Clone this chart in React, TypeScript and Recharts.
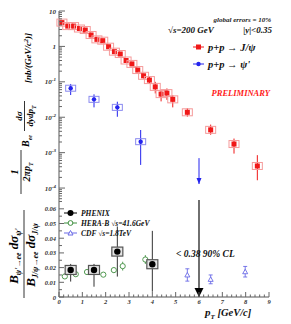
import React from 'react';
import { ComposedChart, Scatter, XAxis, YAxis, ErrorBar } from 'recharts';

// J/psi cross section (top panel)
const jpsiPt = [0.125, 0.375, 0.625, 0.875, 1.125, 1.375, 1.625, 1.875, 2.125, 2.375, 2.625, 2.875, 3.125, 3.375, 3.625, 3.875, 4.125, 4.375, 4.625, 4.875, 5.5, 6.5, 7.5, 8.5];
const jpsiVal = [4.7, 3.75, 3.75, 3.2, 2.9, 2.1, 1.58, 1.45, 0.98, 0.71, 0.61, 0.4, 0.32, 0.215, 0.148, 0.112, 0.072, 0.045, 0.048, 0.032, 0.0138, 0.0044, 0.00175, 0.00042];
const jpsiLo = [4.4, 3.5, 3.5, 3.0, 2.7, 1.95, 1.47, 1.33, 0.9, 0.65, 0.55, 0.36, 0.28, 0.19, 0.125, 0.088, 0.047, 0.028, 0.031, 0.019, 0.0104, 0.0032, 0.00094, 0.000166];
const jpsiHi = [5.0, 4.0, 4.0, 3.4, 3.1, 2.25, 1.7, 1.57, 1.06, 0.77, 0.67, 0.44, 0.36, 0.24, 0.17, 0.14, 0.1, 0.061, 0.065, 0.042, 0.018, 0.0062, 0.0025, 0.00085];

// psi' cross section (top panel)
const psiPt = [0.5, 1.5, 2.5, 3.5];
const psiVal = [0.066, 0.032, 0.019, 0.00204];
const psiLo = [0.0424, 0.019, 0.0103, 0.00045];
const psiHi = [0.087, 0.0443, 0.0274, 0.00436];
const psiLimitPt = [6];
const psiLimitTip = [0.00013];
const psiLimitTop = [0.0007];

// ratio (bottom panel)
const phenixPt = [0.5, 1.5, 2.5, 4.0];
const phenixVal = [0.0184, 0.0184, 0.0309, 0.0223];
const phenixLo = [0.0105, 0.007, 0.0139, 0.0036];
const phenixHi = [0.0225, 0.0225, 0.048, 0.045];
const herabPt = [0.25, 0.72, 1.2, 1.9, 2.35, 2.73, 3.7];
const herabVal = [0.014, 0.0155, 0.017, 0.0152, 0.0183, 0.021, 0.0255];
const herabErr = [0.0015, 0.0015, 0.0015, 0.0015, 0.002, 0.003, 0.003];
const cdfPt = [5.5, 6.5, 7.98];
const cdfVal = [0.015, 0.012, 0.0172];
const cdfErr = [0.0042, 0.003, 0.0036];
const ratioLimitPt = [6];
const ratioLimitTip = [0];
const ratioLimitTop = [0.066];

// axes
const xMajor = [0, 1, 2, 3, 4, 5, 6, 7, 8, 9];
const xLabels = ['0', '1', '2', '3', '4', '5', '6', '7', '8', '9'];
const logMajor = [0.0001, 0.001, 0.01, 0.1, 1, 10];
const logBase = ['10', '10', '10', '10', '1', '10'];
const logExp = ['-4', '-3', '-2', '-1', '', ''];
const ratioMajor = [0, 0.01, 0.02, 0.03, 0.04, 0.05, 0.06];
const ratioLabels = ['0', '0.01', '0.02', '0.03', '0.04', '0.05', '0.06'];

const xTicks = [...xMajor, ...xMajor.slice(0, 9).flatMap((m) => [0.2, 0.4, 0.6, 0.8].map((f) => m + f))];
const logTicks = [...logMajor, ...[0.00001, 0.0001, 0.001, 0.01, 0.1, 1].flatMap((d) => [2, 3, 4, 5, 6, 7, 8, 9].map((k) => d * k)).filter((v) => v > 4.6e-5 && v < 10)];
const ratioTicks = [...ratioMajor, 0.005, 0.015, 0.025, 0.035, 0.045, 0.055, 0.065];

const jpsiData = jpsiPt.map((x, i) => ({ x, y: jpsiVal[i], err: [jpsiVal[i] - jpsiLo[i], jpsiHi[i] - jpsiVal[i]] }));
const psiData = psiPt.map((x, i) => ({ x, y: psiVal[i], err: [psiVal[i] - psiLo[i], psiHi[i] - psiVal[i]] }));
const psiLimit = psiLimitPt.map((x, i) => ({ x, y: psiLimitTip[i], err: [0, psiLimitTop[i] - psiLimitTip[i]] }));
const phenixData = phenixPt.map((x, i) => ({ x, y: phenixVal[i], err: [phenixVal[i] - phenixLo[i], phenixHi[i] - phenixVal[i]] }));
const herabData = herabPt.map((x, i) => ({ x, y: herabVal[i], err: herabErr[i] }));
const cdfData = cdfPt.map((x, i) => ({ x, y: cdfVal[i], err: cdfErr[i] }));
const ratioLimit = ratioLimitPt.map((x, i) => ({ x, y: ratioLimitTip[i], err: [0, ratioLimitTop[i] - ratioLimitTip[i]] }));

const FONT = '"Liberation Serif", "DejaVu Serif", serif';
const RED = '#f01818';
const BLUE = '#2424ee';
const GREEN = '#3f8f3f';
const CDFBLUE = '#6a6ae6';
const txt = { fontFamily: FONT, fontStyle: 'italic', fontWeight: 'bold' } as const;

const LogTick = (p: any) => {
  const i = logMajor.indexOf(p.payload.value);
  const major = i >= 0;
  return (
    <g>
      <line x1={p.x} x2={p.x + (major ? 6 : 3)} y1={p.y} y2={p.y} stroke="#666" />
      {major && (
        <text x={p.x - 3} y={p.y + 2.5} textAnchor="end" fontSize={7} {...txt} fill="#333">
          {logBase[i]}
          {logExp[i] && <tspan dy={-3} fontSize={5}>{logExp[i]}</tspan>}
        </text>
      )}
    </g>
  );
};

const RatioTick = (p: any) => {
  const i = ratioMajor.indexOf(p.payload.value);
  const major = i >= 0;
  return (
    <g>
      <line x1={p.x} x2={p.x + (major ? 5 : 3)} y1={p.y} y2={p.y} stroke="#666" />
      {major && (
        <text x={p.x - 3} y={p.y + 2.5} textAnchor="end" fontSize={6.5} {...txt} fill="#333">
          {ratioLabels[i]}
        </text>
      )}
    </g>
  );
};

const XTickTop = (p: any) => {
  const major = xMajor.includes(p.payload.value);
  return <line x1={p.x} x2={p.x} y1={p.y} y2={p.y - (major ? 5 : 2.5)} stroke="#666" />;
};

const XTickBottom = (p: any) => {
  const i = xMajor.indexOf(p.payload.value);
  const major = i >= 0;
  return (
    <g>
      <line x1={p.x} x2={p.x} y1={p.y} y2={p.y - (major ? 5 : 2.5)} stroke="#666" />
      {major && (
        <text x={p.x} y={p.y + 7} textAnchor="middle" fontSize={6.5} {...txt} fill="#333">
          {xLabels[i]}
        </text>
      )}
    </g>
  );
};

const JpsiShape = (p: any) => (
  <g>
    <rect x={p.cx - 5} y={p.cy - 3.5} width={10} height={7} fill="none" stroke="#f59a9a" strokeWidth={1} />
    <rect x={p.cx - 2.5} y={p.cy - 2.5} width={5} height={5} fill={RED} />
  </g>
);

const PsiShape = (p: any) => (
  <g>
    <rect x={p.cx - 5} y={p.cy - 3} width={10} height={6} fill="none" stroke="#8a8af0" strokeWidth={1} />
    <circle cx={p.cx} cy={p.cy} r={2.2} fill={BLUE} />
  </g>
);

const DownArrow = (color: string, w: number, h: number) => (p: any) => (
  <polygon points={`${p.cx - w / 2},${p.cy - h} ${p.cx + w / 2},${p.cy - h} ${p.cx},${p.cy}`} fill={color} />
);

const PhenixShape = (p: any) => (
  <g>
    <rect x={p.cx - 5.5} y={p.cy - 4.5} width={11} height={9} fill="#e4e4e4" stroke="#555" strokeWidth={1.2} />
    <circle cx={p.cx} cy={p.cy} r={3.2} fill="#000" />
  </g>
);

const HerabShape = (p: any) => <circle cx={p.cx} cy={p.cy} r={2.6} fill="#fff" stroke={GREEN} strokeWidth={0.9} />;

const CdfShape = (p: any) => (
  <polygon points={`${p.cx - 2.5},${p.cy + 2} ${p.cx + 2.5},${p.cy + 2} ${p.cx},${p.cy - 2.5}`} fill="#fff" stroke={CDFBLUE} strokeWidth={0.9} />
);

const Rot = ({ x, y, size = 10, children }: any) => (
  <text transform={`translate(${x},${y}) rotate(-90)`} textAnchor="middle" fontSize={size} {...txt} fill="#000">
    {children}
  </text>
);

export default function App() {
  return (
    <div style={{ position: 'absolute', left: 0, top: 0, width: 291, height: 324, background: '#fff' }}>
      <div style={{ position: 'absolute', left: 0, top: 0 }}>
        <ComposedChart width={291} height={200} margin={{ top: 11, right: 22, bottom: 0, left: 0 }}>
          <XAxis xAxisId="b" type="number" dataKey="x" domain={[0, 9]} ticks={xTicks} interval={0} height={0} tickSize={0} tickMargin={0} tickLine={false} tick={(p: any) => <XTickTop {...p} />} axisLine={{ stroke: '#555' }} />
          <XAxis xAxisId="t" orientation="top" type="number" domain={[0, 9]} height={0} tick={false} tickLine={false} axisLine={{ stroke: '#555' }} />
          <YAxis yAxisId="l" type="number" dataKey="y" scale="log" domain={[4.6e-5, 10]} allowDataOverflow ticks={logTicks} interval={0} width={59} tickSize={0} tickMargin={0} tickLine={false} tick={(p: any) => <LogTick {...p} />} axisLine={{ stroke: '#555' }} />
          <YAxis yAxisId="r" orientation="right" type="number" domain={[0, 1]} width={0} tick={false} tickLine={false} axisLine={{ stroke: '#555' }} />
          <Scatter xAxisId="b" yAxisId="l" data={jpsiData} isAnimationActive={false} shape={JpsiShape}>
            <ErrorBar dataKey="err" direction="y" width={0} stroke={RED} strokeWidth={1} />
          </Scatter>
          <Scatter xAxisId="b" yAxisId="l" data={psiData} isAnimationActive={false} shape={PsiShape}>
            <ErrorBar dataKey="err" direction="y" width={0} stroke={BLUE} strokeWidth={1} />
          </Scatter>
          <Scatter xAxisId="b" yAxisId="l" data={psiLimit} isAnimationActive={false} shape={DownArrow(BLUE, 5, 6)}>
            <ErrorBar dataKey="err" direction="y" width={0} stroke={BLUE} strokeWidth={1} />
          </Scatter>
        </ComposedChart>
      </div>
      <div style={{ position: 'absolute', left: 0, top: 200 }}>
        <ComposedChart width={291} height={124} margin={{ top: 0, right: 22, bottom: 0, left: 0 }}>
          <XAxis type="number" dataKey="x" domain={[0, 9]} ticks={xTicks} interval={0} height={27} tickSize={0} tickMargin={0} tickLine={false} tick={(p: any) => <XTickBottom {...p} />} axisLine={{ stroke: '#555' }} />
          <YAxis type="number" dataKey="y" domain={[0, 0.066]} allowDataOverflow ticks={ratioTicks} interval={0} width={59} tickSize={0} tickMargin={0} tickLine={false} tick={(p: any) => <RatioTick {...p} />} axisLine={{ stroke: '#555' }} />
          <YAxis yAxisId="r" orientation="right" type="number" domain={[0, 1]} width={0} tick={false} tickLine={false} axisLine={{ stroke: '#555' }} />
          <Scatter data={ratioLimit} isAnimationActive={false} shape={DownArrow('#000', 9, 9)}>
            <ErrorBar dataKey="err" direction="y" width={0} stroke="#222" strokeWidth={1.3} />
          </Scatter>
          <Scatter data={herabData} isAnimationActive={false} shape={HerabShape}>
            <ErrorBar dataKey="err" direction="y" width={0} stroke={GREEN} strokeWidth={0.9} />
          </Scatter>
          <Scatter data={cdfData} isAnimationActive={false} shape={CdfShape}>
            <ErrorBar dataKey="err" direction="y" width={2} stroke={CDFBLUE} strokeWidth={0.9} />
          </Scatter>
          <Scatter data={phenixData} isAnimationActive={false} shape={PhenixShape}>
            <ErrorBar dataKey="err" direction="y" width={0} stroke="#333" strokeWidth={1} />
          </Scatter>
        </ComposedChart>
      </div>
      <svg width={291} height={324} style={{ position: 'absolute', left: 0, top: 0, pointerEvents: 'none' }}>
        {/* top legend */}
        <text x={271} y={22} textAnchor="end" fontSize={7} {...txt} fill="#222">global errors = 10%</text>
        <text x={168} y={33} fontSize={9} {...txt} fill="#111">√s=200 GeV</text>
        <text x={272} y={33} textAnchor="end" fontSize={9} {...txt} fill="#111">|y|&lt;0.35</text>
        <line x1={193} x2={204} y1={47} y2={47} stroke={RED} />
        <rect x={196} y={44.5} width={5} height={5} fill={RED} />
        <text x={208} y={51} fontSize={10.5} {...txt} fill="#111">p+p → J/ψ</text>
        <line x1={193} x2={204} y1={64} y2={64} stroke={BLUE} />
        <circle cx={198.5} cy={64} r={2.2} fill={BLUE} />
        <text x={208} y={68} fontSize={10.5} {...txt} fill="#111">p+p → ψ'</text>
        <text x={270} y={96} textAnchor="end" fontSize={8.5} {...txt} fill="#ff1a1a">PRELIMINARY</text>

        {/* bottom legend */}
        <line x1={64} x2={77} y1={213} y2={213} stroke="#000" />
        <circle cx={70.5} cy={213} r={3} fill="#000" />
        <text x={81} y={216} fontSize={7.5} {...txt} fill="#111">PHENIX</text>
        <line x1={64} x2={77} y1={223} y2={223} stroke={GREEN} />
        <circle cx={70.5} cy={223} r={2.4} fill="#fff" stroke={GREEN} />
        <text x={81} y={226} fontSize={7.5} {...txt} fill="#111">HERA-B  √s=41.6GeV</text>
        <line x1={64} x2={77} y1={233} y2={233} stroke={CDFBLUE} />
        <polygon points="68,235 73,235 70.5,230.5" fill="#fff" stroke={CDFBLUE} />
        <text x={81} y={236} fontSize={7.5} {...txt} fill="#111">CDF  √s=1.8TeV</text>
        <text x={176} y={257} fontSize={9.5} {...txt} fill="#111">&lt; 0.38  90% CL</text>

        {/* x title */}
        <text x={205} y={316} fontSize={11} {...txt} fill="#111">
          p<tspan dy={3} fontSize={7}>T</tspan>
          <tspan dy={-3} fontSize={10.5}> [GeV/c]</tspan>
        </text>

        {/* top y title */}
        <Rot x={18} y={172}>1</Rot>
        <line x1={21} x2={21} y1={150} y2={194} stroke="#000" strokeWidth={0.8} />
        <Rot x={30} y={172}>2πp<tspan dy={3} fontSize={6}>T</tspan></Rot>
        <Rot x={29} y={141}>B<tspan dy={3} fontSize={6}>ee</tspan></Rot>
        <Rot x={22} y={116} size={9}>dσ</Rot>
        <line x1={24.5} x2={24.5} y1={101} y2={131} stroke="#000" strokeWidth={0.8} />
        <Rot x={33} y={116} size={9}>dydp<tspan dy={3} fontSize={6}>T</tspan></Rot>
        <Rot x={31} y={58} size={9}>[nb/(GeV/c<tspan dy={-3} fontSize={6}>2</tspan><tspan dy={3}>)]</tspan></Rot>

        {/* bottom y title */}
        <Rot x={18} y={256} size={13}>
          B<tspan dy={3} fontSize={8}>ψ'→ee</tspan><tspan dy={-3}> dσ</tspan><tspan dy={3} fontSize={8}>ψ'</tspan>
        </Rot>
        <line x1={24} x2={24} y1={210} y2={298} stroke="#000" strokeWidth={0.8} />
        <Rot x={35} y={255} size={13}>
          B<tspan dy={3} fontSize={8}>J/ψ→ee</tspan><tspan dy={-3}> dσ</tspan><tspan dy={3} fontSize={8}>J/ψ</tspan>
        </Rot>
      </svg>
    </div>
  );
}
